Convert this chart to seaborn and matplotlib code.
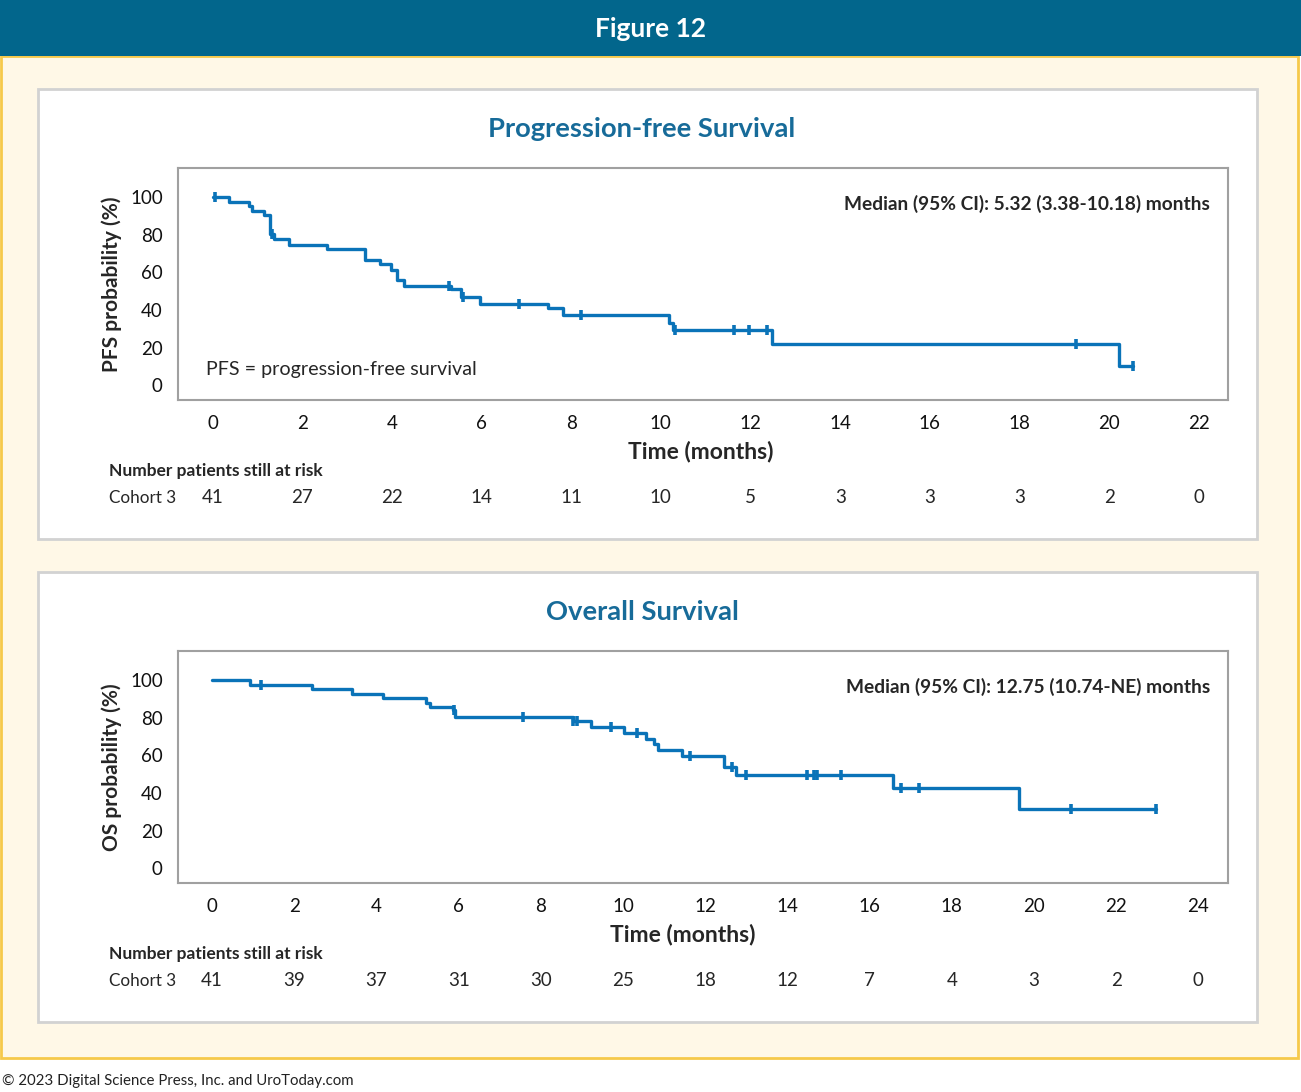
import numpy as np
import pandas as pd
import seaborn as sns
import matplotlib.pyplot as plt
from matplotlib.patches import Rectangle
from matplotlib.transforms import blended_transform_factory

# PFS
pfs_time = [0, 0.37, 0.82, 0.87, 1.14, 1.29, 1.38, 1.71, 2.55, 3.41, 3.74, 3.97, 4.11, 4.26,
            5.33, 5.54, 5.97, 7.49, 7.81, 10.18, 10.28, 12.47, 20.22, 20.54]
pfs_surv = [100, 97.6, 95.1, 92.7, 90.2, 80.5, 77.5, 74.5, 72.2, 66.5, 64.2, 61.5, 55.9, 52.7,
            50.9, 47.0, 43.4, 40.8, 37.2, 33.1, 29.3, 21.8, 10.3, 10.3]
pfs_censor = [0.05, 1.33, 5.28, 5.58, 6.84, 8.21, 10.31, 11.64, 11.96, 12.37, 19.26, 20.54]
pfs_risk_t = [0, 2, 4, 6, 8, 10, 12, 14, 16, 18, 20, 22]
pfs_risk_n = [41, 27, 22, 14, 11, 10, 5, 3, 3, 3, 2, 0]

# OS
os_time = [0, 0.92, 2.42, 3.41, 4.16, 5.21, 5.29, 5.86, 5.92, 8.79, 9.21, 10.03, 10.57, 10.76,
           10.86, 11.43, 12.45, 12.75, 16.57, 19.64, 22.97]
os_surv = [100, 97.6, 95.1, 92.7, 90.2, 87.7, 85.9, 84.1, 80.6, 78.0, 75.1, 71.6, 68.8, 65.9,
           62.9, 59.8, 53.7, 49.4, 42.7, 31.6, 31.6]
os_censor = [1.2, 5.89, 7.57, 8.79, 8.87, 9.70, 10.34, 11.63, 12.65, 13.0, 14.48, 14.64, 14.73,
             15.30, 16.77, 17.21, 20.9, 22.97]
os_risk_t = [0, 2, 4, 6, 8, 10, 12, 14, 16, 18, 20, 22, 24]
os_risk_n = [41, 39, 37, 31, 30, 25, 18, 12, 7, 4, 3, 2, 0]

W, H = 1301, 1092
BLUE = "#0a73b8"
TEAL = "#176b99"

sns.set_style("white")
plt.rcParams["font.family"] = ["Lato", "DejaVu Sans"]

fig = plt.figure(figsize=(W / 100, H / 100), dpi=100)
fig.patch.set_facecolor("white")


def fx(x):
    return x / W


def fy(y):
    return 1 - y / H


def box(x0, y0, x1, y1, **kw):
    fig.patches.append(Rectangle((fx(x0), fy(y1)), fx(x1) - fx(x0), fy(y0) - fy(y1),
                                 transform=fig.transFigure, **kw))


# background panels
box(1, 56, 1298, 1058, facecolor="#fff8e7", edgecolor="#f6c94a", lw=2, zorder=0)
box(0, 0, W, 56, facecolor="#02668c", edgecolor="none", zorder=1)
box(38, 89, 1257, 539, facecolor="white", edgecolor="#d2d2d2", lw=2, zorder=1)
box(38, 572, 1257, 1022, facecolor="white", edgecolor="#d2d2d2", lw=2, zorder=1)

fig.text(fx(651), fy(29), "Figure 12", color="white", fontsize=19, weight="bold",
         ha="center", va="center")
fig.text(fx(2), fy(1081), "© 2023 Digital Science Press, Inc. and UroToday.com",
         fontsize=10.8, ha="left", va="center", color="#222222")


def km_panel(top, times, surv, censor, xmax_tick, xlim, title, title_y, ylabel,
             median_txt, risk_t, risk_n, risk_y, xlabel_x, note=None):
    ax = fig.add_axes([fx(178), fy(top + 232), fx(1050), 232 / H])
    ax.set_zorder(2)
    df = pd.DataFrame({"time": times, "surv": surv})
    sns.lineplot(data=df, x="time", y="surv", drawstyle="steps-post", color=BLUE,
                 lw=2.4, ax=ax)
    idx = np.searchsorted(times, censor, side="right") - 1
    cdf = pd.DataFrame({"time": censor, "surv": np.array(surv)[idx]})
    sns.scatterplot(data=cdf, x="time", y="surv", marker="|", s=45, linewidth=2.6,
                    color=BLUE, ax=ax, zorder=3)
    ax.set_xlim(*xlim)
    ax.set_ylim(-7.8, 115.4)
    ax.set_xticks(np.arange(0, xmax_tick + 1, 2))
    ax.set_yticks([0, 20, 40, 60, 80, 100])
    for s in ax.spines.values():
        s.set_color("#a0a0a0")
        s.set_linewidth(1.5)
    ax.tick_params(axis="both", direction="out", length=8, width=1.3, color="#a0a0a0",
                   labelsize=13.5, labelcolor="#111111", pad=3)
    ax.set_xlabel("Time (months)", fontsize=16.5, weight="bold")
    ax.xaxis.set_label_coords((xlabel_x - 178) / 1050, -0.175)
    ax.set_ylabel(ylabel, fontsize=15, weight="bold", labelpad=6)
    ax.text(0.983, 0.845, median_txt, transform=ax.transAxes, ha="right", va="center",
            fontsize=13.8, weight="bold")
    if note:
        ax.text(0.027, 0.132, note, transform=ax.transAxes, ha="left", va="center",
                fontsize=14.2)
    fig.text(fx(642), fy(title_y), title, color=TEAL, fontsize=19.7, weight="bold",
             ha="center", va="center")
    fig.text(fx(109), fy(risk_y - 27), "Number patients still at risk", fontsize=12.5,
             weight="bold", ha="left", va="center")
    fig.text(fx(109), fy(risk_y), "Cohort 3", fontsize=12.3, ha="left", va="center")
    tr = blended_transform_factory(ax.transData, fig.transFigure)
    for t, n in zip(risk_t, risk_n):
        ax.text(t, fy(risk_y), str(n), transform=tr, ha="center", va="center",
                fontsize=13.5, clip_on=False)
    return ax


km_panel(168, pfs_time, pfs_surv, pfs_censor, 22, (-0.77, 22.65),
         "Progression-free Survival", 129, "PFS probability (%)",
         "Median (95% CI): 5.32 (3.38-10.18) months", pfs_risk_t, pfs_risk_n, 498, 701,
         note="PFS = progression-free survival")
km_panel(651, os_time, os_surv, os_censor, 24, (-0.83, 24.72),
         "Overall Survival", 612, "OS probability (%)",
         "Median (95% CI): 12.75 (10.74-NE) months", os_risk_t, os_risk_n, 981, 683)

fig.savefig("out.png", dpi=100)
